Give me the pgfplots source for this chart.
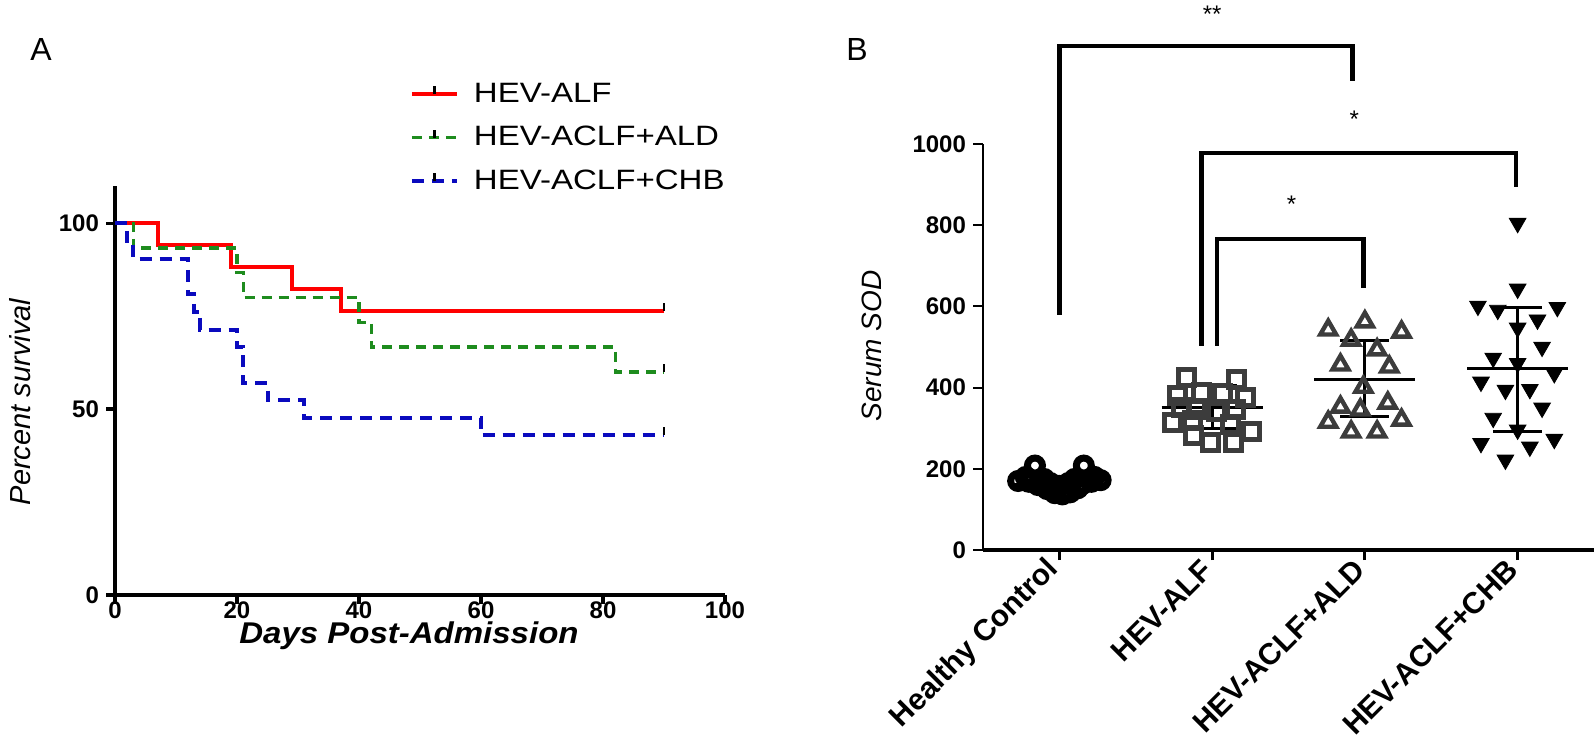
\documentclass[border=0pt]{standalone}
\usepackage{fontspec}
\setmainfont{Liberation Sans}
\newfontfamily\legfont{Liberation Sans}[FakeStretch=1.18]
\newfontfamily\labfont{Liberation Sans}[FakeStretch=1.1]
\usepackage{pgfplots}
\pgfplotsset{compat=1.18}
\definecolor{kmred}{RGB}{255,0,0}
\definecolor{kmgreen}{RGB}{30,140,30}
\definecolor{kmblue}{RGB}{10,10,190}
\definecolor{mkgray}{RGB}{60,60,60}
% censor tick, pointing up from the curve
\pgfdeclareplotmark{cens}{%
  \pgfpathmoveto{\pgfpointorigin}%
  \pgfpathlineto{\pgfpoint{0pt}{\pgfplotmarksize}}%
  \pgfusepathqstroke}
\tikzset{
  brk/.style={black, line width=2.2pt, line join=miter, mark=none},
  msd/.style={black, line width=1.5pt, mark=none},
}
\begin{document}
\begin{tikzpicture}[x=1pt,y=1pt]
\useasboundingbox (0,0) rectangle (797,377.5);

% ---------------- panel A: survival ----------------
\begin{axis}[
  at={(57.5pt,80pt)}, anchor=south west,
  scale only axis, width=305pt, height=204.5pt,
  xmin=0, xmax=100, ymin=0, ymax=110,
  axis lines=left, axis line style={-, line width=2pt},
  xtick={0,20,...,100}, ytick={0,50,100},
  tick align=outside, major tick length=4.5pt,
  tick style={line width=1.6pt, black},
  ticklabel style={font=\fontsize{12}{14}\selectfont\bfseries},
  xticklabel style={yshift=4.5pt},
  /pgf/number format/assume math mode=true,
  clip=false,
  legend style={at={(0.473,1.27)}, anchor=north west, draw=none, fill=none,
    font=\fontsize{14}{16}\selectfont\legfont, row sep=7.5pt, column sep=6pt,
    nodes={inner sep=1.5pt}},
  legend cell align=left,
  legend image code/.code={
    \draw[#1, mark=none] (0pt,0pt) -- (22.5pt,0pt);
    \draw[black, solid, line width=1.1pt] (11.25pt,0pt) -- (11.25pt,4pt);},
]
\addplot[const plot, kmred, line width=2pt, mark=cens, mark indices={6},
  mark size=4pt, mark options={solid, black, line width=1.1pt}]
  coordinates {(0,100)(7,94.1)(19,88.2)(29,82.4)(37,76.5)(90,76.5)};
\addlegendentry{HEV-ALF}
\addplot[const plot, kmgreen, line width=1.6pt, dash pattern=on 5pt off 3.5pt,
  mark=cens, mark indices={8}, mark size=4pt, mark options={solid, black, line width=1.1pt}]
  coordinates {(0,100)(3,93.3)(20,86.7)(21,80)(40,73.3)(42,66.7)(82,60)(90,60)};
\addlegendentry{HEV-ACLF+ALD}
\addplot[const plot, kmblue, line width=2pt, dash pattern=on 6pt off 4pt,
  mark=cens, mark indices={12}, mark size=4pt, mark options={solid, black, line width=1.1pt}]
  coordinates {(0,100)(2,95.2)(3,90.5)(12,81)(13,76.2)(14,71.4)(20,66.7)(21,57.1)
               (25,52.4)(31,47.6)(60,42.9)(90,42.9)};
\addlegendentry{HEV-ACLF+CHB}
\end{axis}

% ---------------- panel B: serum SOD ----------------
\begin{axis}[
  at={(491.5pt,102.5pt)}, anchor=south west,
  scale only axis, width=305.5pt, height=203pt,
  xmin=-0.5, xmax=3.5, ymin=0, ymax=1000,
  axis lines=left,
  x axis line style={-, line width=2.4pt},
  y axis line style={-, line width=1pt},
  xtick={0,1,2,3},
  xticklabels={Healthy Control, HEV-ALF, HEV-ACLF+ALD, HEV-ACLF+CHB},
  ytick={0,200,...,1000},
  tick align=outside, major tick length=5pt,
  x tick style={line width=1.6pt, black},
  y tick style={line width=1pt, black},
  xticklabel style={rotate=45, anchor=east, font=\fontsize{15}{17}\selectfont\bfseries},
  yticklabel style={font=\fontsize{12}{14}\selectfont\bfseries},
  /pgf/number format/assume math mode=true,
  /pgf/number format/1000 sep={},
  clip=false,
]
% Healthy control
\addplot[only marks, mark=o, mark size=3.75pt, black, line width=3.5pt]
  coordinates {(-0.27,170)(-0.2,168)(-0.14,160)(-0.08,150)(-0.03,140)(0.02,137)
    (0.07,142)(0.12,152)(0.15,162)(0.21,168)(0.27,172)(-0.22,180)(0.23,180)
    (-0.06,165)(0.06,165)(0,158)(-0.1,175)(0.1,175)(-0.16,208)(0.16,208)};
% HEV-ALF
\addplot[only marks, mark=square, mark size=4pt, mkgray, line width=2.5pt]
  coordinates {(0.835,424)(1.16,420)(0.77,380)(0.93,388)(1.07,385)(1.22,375)
    (0.9,345)(1.03,340)(1.15,345)(0.74,315)(0.87,320)(1.12,310)(1.26,291)
    (0.88,283)(0.99,266)(1.14,266)(0.8,350)};
% HEV-ACLF+ALD
\addplot[only marks, mark=triangle, mark size=4.6pt, mkgray, line width=2.2pt]
  coordinates {(1.76,542)(2,562)(2.24,537)(1.91,517)(2.08,493)(1.84,456)(2.16,451)
    (1.99,401)(1.84,352)(2.15,362)(1.97,345)(1.76,315)(2.24,320)(1.91,291)(2.08,291)};
% HEV-ACLF+CHB
\addplot[only marks, mark=triangle*, mark size=4.8pt, black, line width=0.4pt,
  mark options={rotate=180}]
  coordinates {(3,805)(3,643)(2.74,601)(2.87,591)(3.26,598)(3.13,567)(3,547)
    (3.16,500)(2.84,473)(3,460)(3.24,435)(2.76,414)(2.92,394)(3.08,396)
    (3.16,350)(2.84,325)(3,296)(2.76,263)(3.24,273)(3.08,254)(2.92,222)};
% mean and SD
\addplot[msd] coordinates {(-0.33,162)(0.33,162)};
\addplot[msd] coordinates {(0,140)(0,185)};
\addplot[msd] coordinates {(0.67,352)(1.33,352)};
\addplot[msd] coordinates {(1,300)(1,405)};
\addplot[msd] coordinates {(0.84,300)(1.16,300)};
\addplot[msd] coordinates {(0.84,405)(1.16,405)};
\addplot[msd] coordinates {(1.67,421)(2.33,421)};
\addplot[msd] coordinates {(2,328)(2,517)};
\addplot[msd] coordinates {(1.84,328)(2.16,328)};
\addplot[msd] coordinates {(1.84,517)(2.16,517)};
\addplot[msd] coordinates {(2.67,446)(3.33,446)};
\addplot[msd] coordinates {(3,293)(3,598)};
\addplot[msd] coordinates {(2.84,293)(3.16,293)};
\addplot[msd] coordinates {(2.84,598)(3.16,598)};
% significance brackets
\addplot[brk] coordinates {(0,579)(0,1241)(1.92,1241)(1.92,1155)};
\addplot[brk] coordinates {(0.93,503)(0.93,978)(2.99,978)(2.99,894)};
\addplot[brk] coordinates {(1.03,503)(1.03,766)(1.99,766)(1.99,645)};
\node[font=\fontsize{12}{14}\selectfont] at (axis cs:1.0,1320) {**};
\node[font=\fontsize{12}{14}\selectfont] at (axis cs:1.93,1060) {*};
\node[font=\fontsize{12}{14}\selectfont] at (axis cs:1.52,851) {*};
\end{axis}

% panel letters and axis titles
\node[font=\fontsize{16}{18}\selectfont] at (20.5,353) {A};
\node[font=\fontsize{16}{18}\selectfont] at (428.5,353) {B};
\node[rotate=90, font=\fontsize{14.5}{16}\selectfont\itshape] at (10,176.5) {Percent survival};
\node[font=\fontsize{15}{17}\selectfont\labfont\bfseries\itshape] at (204.5,59.5) {Days Post-Admission};
\node[rotate=90, font=\fontsize{14}{16}\selectfont\itshape] at (436,204.5) {Serum SOD};
\end{tikzpicture}
\end{document}
